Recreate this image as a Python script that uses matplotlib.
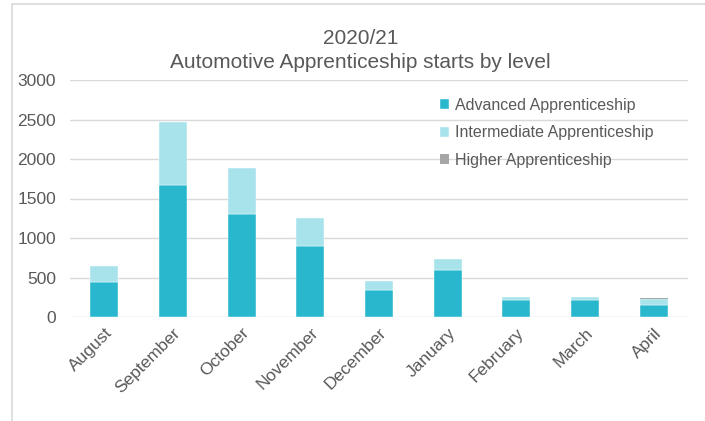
import matplotlib.pyplot as plt
import numpy as np

months = ['August', 'September', 'October', 'November', 'December',
          'January', 'February', 'March', 'April']
advanced = [448, 1669, 1305, 896, 346, 591, 220, 220, 156]
intermediate = [198, 794, 583, 359, 110, 148, 33, 33, 66]
higher = [0, 0, 0, 0, 0, 0, 0, 0, 24]

plt.rcParams['font.family'] = ['Liberation Sans', 'DejaVu Sans']

text_col = '#595959'
col_adv = '#29b7cd'
col_int = '#a8e3ec'
col_high = '#a6a6a6'

fig = plt.figure(figsize=(7.05, 4.21), dpi=100)
ax = fig.add_axes([70 / 705, 1 - 317 / 421, 618 / 705, 237 / 421])

# light frame round the chart, as in the screenshot
fig.patches.append(plt.Rectangle((12 / 705, -0.05), 1.2, 1.02 - 12 / 421 + 0.05,
                                 transform=fig.transFigure, fill=False,
                                 edgecolor='#d9d9d9', linewidth=1.2))

x = np.arange(len(months))
w = 0.41
adv = np.array(advanced)
inter = np.array(intermediate)
ax.bar(x, adv, w, color=col_adv, edgecolor='white', linewidth=0.3,
       label='Advanced Apprenticeship', zorder=3)
ax.bar(x, inter, w, bottom=adv, color=col_int, edgecolor='white', linewidth=0.3,
       label='Intermediate Apprenticeship', zorder=3)
ax.bar(x, higher, w, bottom=adv + inter, color=col_high, linewidth=0,
       label='Higher Apprenticeship', zorder=3)

ax.set_xlim(-0.5, len(months) - 0.5)
ax.set_ylim(0, 3000)
ax.set_yticks(range(0, 3001, 500))
ax.grid(axis='y', color='#d9d9d9', linewidth=1, zorder=0)
for s in ax.spines.values():
    s.set_visible(False)
ax.tick_params(axis='both', length=0, colors=text_col, labelsize=12.5)
ax.tick_params(axis='y', pad=10)
ax.tick_params(axis='x', pad=6)
ax.set_xticks(x)
ax.set_xticklabels(months, rotation=45, ha='right', rotation_mode='anchor')

fig.text(0.5 + 8 / 705, 1 - 38 / 421, '2020/21', ha='center', va='center',
         fontsize=15, color=text_col)
fig.text(0.5 + 8 / 705, 1 - 62 / 421, 'Automotive Apprenticeship starts by level',
         ha='center', va='center', fontsize=15, color=text_col)

leg = ax.legend(loc='upper left', bbox_to_anchor=(0.575, 0.985), frameon=False,
                fontsize=11.5, handlelength=0.55, handleheight=0.55,
                handletextpad=0.4, labelspacing=0.78)
for t in leg.get_texts():
    t.set_color(text_col)

fig.savefig('out.png', dpi=100)
